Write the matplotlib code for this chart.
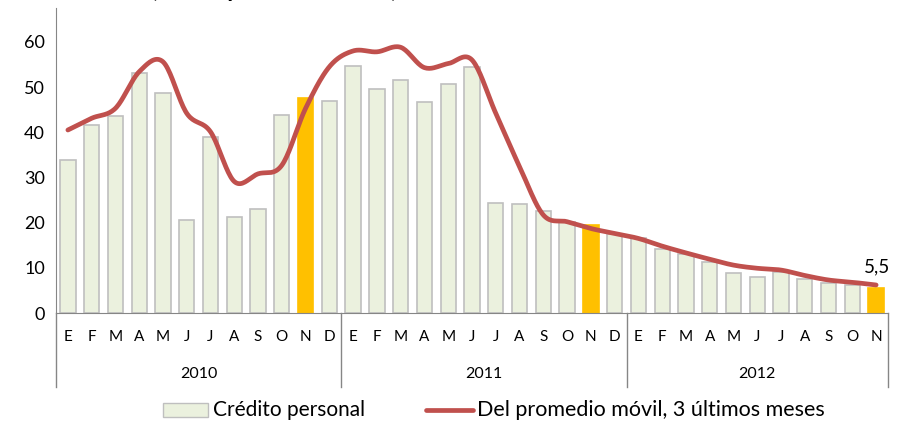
import numpy as np
import matplotlib
matplotlib.use("Agg")
import matplotlib.pyplot as plt
from matplotlib.patches import Rectangle
from matplotlib.lines import Line2D

plt.rcParams['font.family'] = ['Lato', 'DejaVu Sans']

years = ["2010", "2011", "2012"]
months_per_year = [12, 12, 11]
month_letters = ["E", "F", "M", "A", "M", "J", "J", "A", "S", "O", "N", "D"]

credito = [33.8, 41.6, 43.7, 53.2, 48.7, 20.6, 38.9, 21.2, 23.0, 43.8, 47.5, 47.0,
           54.7, 49.5, 51.6, 46.6, 50.6, 54.4, 24.4, 24.2, 22.5, 20.2, 19.5, 17.5,
           16.5, 14.2, 13.0, 11.2, 8.9, 8.0, 9.0, 7.6, 6.6, 6.2, 5.5]
promedio = [40.5, 43.1, 45.3, 53.4, 55.6, 44.2, 40.1, 29.1, 30.8, 32.7, 45.3, 54.5,
            58.0, 57.8, 58.8, 54.3, 55.2, 56.0, 44.2, 32.4, 21.7, 20.2, 18.7, 17.6,
            16.5, 14.8, 13.3, 11.9, 10.6, 9.9, 9.5, 8.3, 7.3, 6.8, 6.2]
highlight = [10, 22, 34]   # noviembre de cada año

BAR_FACE = "#EBF1DE"
BAR_EDGE = "#BFBFBF"
HI_FACE = "#FFC000"
LINE_COLOR = "#C0504D"


def smooth(y, n=20):
    # catmull-rom like Excel's smoothed line
    y = np.asarray(y, dtype=float)
    x = np.arange(len(y), dtype=float)
    p = np.concatenate([[y[0]], y, [y[-1]]])
    px = np.concatenate([[x[0]], x, [x[-1]]])
    xs, ys = [], []
    for i in range(len(y) - 1):
        p0, p1, p2, p3 = p[i], p[i + 1], p[i + 2], p[i + 3]
        x0, x1, x2, x3 = px[i], px[i + 1], px[i + 2], px[i + 3]
        t = np.linspace(0, 1, n, endpoint=False)
        c1y, c2y = p1 + (p2 - p0) / 6, p2 - (p3 - p1) / 6
        c1x, c2x = x1 + (x2 - x0) / 6, x2 - (x3 - x1) / 6
        b = lambda a, c1, c2, d: ((1 - t) ** 3 * a + 3 * (1 - t) ** 2 * t * c1
                                  + 3 * (1 - t) * t ** 2 * c2 + t ** 3 * d)
        xs.append(b(x1, c1x, c2x, x2))
        ys.append(b(p1, c1y, c2y, p2))
    xs.append([x[-1]])
    ys.append([y[-1]])
    return np.concatenate(xs), np.concatenate(ys)


fig = plt.figure(figsize=(9, 4.21), dpi=100)
ax = fig.add_axes([56 / 900, 108 / 421, 832 / 900, 305 / 421])

n = len(credito)
x = np.arange(n)
colors = [HI_FACE if i in highlight else BAR_FACE for i in range(n)]
edges = [HI_FACE if i in highlight else BAR_EDGE for i in range(n)]
ax.bar(x, credito, width=0.645, color=colors, edgecolor=edges, linewidth=1.2, zorder=2)

sx, sy = smooth(promedio)
ax.plot(sx, sy, color=LINE_COLOR, lw=3.4, solid_capstyle='round', zorder=3)

ax.annotate("5,5", (x[-1], promedio[-1]), xytext=(1, 7), textcoords='offset points',
            ha='center', va='bottom', fontsize=13.5)

ax.set_xlim(-0.5, n - 0.5)
ax.set_ylim(0, 67.5)
ax.set_yticks(range(0, 61, 10))
ax.tick_params(axis='y', length=0, labelsize=13, pad=8)
ax.set_xticks([])
for s in ["top", "right"]:
    ax.spines[s].set_visible(False)
ax.spines["left"].set_color("#868686")
ax.spines["bottom"].set_color("#868686")

# two-level category axis
trans = ax.get_xaxis_transform()
pos = 0
ax.add_line(Line2D([-0.5, -0.5], [0, -0.243], transform=trans, color="#868686",
                   lw=1, clip_on=False))
for yr, cnt in zip(years, months_per_year):
    for k in range(cnt):
        ax.text(pos + k, -0.08, month_letters[k], transform=trans, ha='center',
                va='center', fontsize=11)
    ax.text(pos + (cnt - 1) / 2, -0.2, yr, transform=trans, ha='center',
            va='center', fontsize=11.5)
    pos += cnt
    ax.add_line(Line2D([pos - 0.5, pos - 0.5], [0, -0.243], transform=trans,
                       color="#868686", lw=1, clip_on=False))

# legend
fig.patches.append(Rectangle((163 / 900, 1 - 417 / 421), 45 / 900, 14 / 421,
                             transform=fig.transFigure, facecolor=BAR_FACE,
                             edgecolor=BAR_EDGE, lw=1))
fig.text(213 / 900, 1 - 410 / 421, "Crédito personal", fontsize=15, va='center')
fig.lines.append(Line2D([426 / 900, 473 / 900], [1 - 410 / 421] * 2,
                        transform=fig.transFigure, color=LINE_COLOR, lw=3.4,
                        solid_capstyle='round'))
fig.text(477 / 900, 1 - 410 / 421, "Del promedio móvil, 3 últimos meses",
         fontsize=15.5, va='center')

# title, cut off at the top edge as in the original (only descenders show)
fig.text(274 / 900, 1 + 3.5 / 421, "(var. % promedio anual)", fontsize=17,
         fontweight='bold', ha='center', va='baseline')

fig.savefig("out.png", dpi=100)
